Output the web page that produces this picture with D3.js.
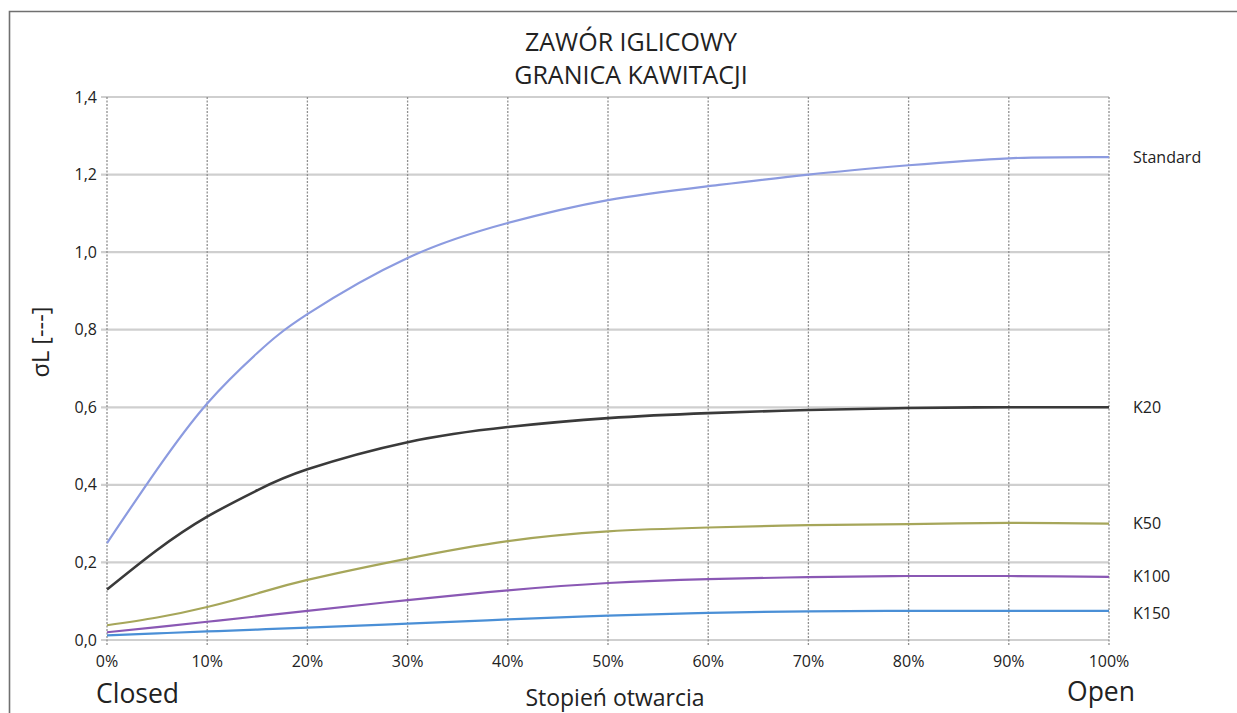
<!DOCTYPE html>
<html><head><meta charset="utf-8">
<script src="https://cdn.jsdelivr.net/npm/d3@7"></script>
<style>body{margin:0;background:#fff;} svg{display:block;font-family:"Open Sans","Noto Sans",sans-serif;}</style>
</head><body><svg id="c" width="1237" height="713"></svg>
<script>
const xValues = [0,5,10,15,20,30,40,50,60,70,80,90,100];
const seriesNames = ["Standard","K20","K50","K100","K150"];
const standard = [0.25,0.44,0.61,0.74,0.84,0.985,1.075,1.134,1.17,1.2,1.224,1.242,1.245];
const k20 = [0.13,0.232,0.318,0.386,0.44,0.51,0.549,0.572,0.585,0.593,0.598,0.6,0.6];
const k50 = [0.038,0.058,0.085,0.12,0.155,0.21,0.255,0.28,0.29,0.296,0.299,0.302,0.3];
const k100 = [0.02,0.033,0.047,0.061,0.075,0.103,0.128,0.147,0.157,0.162,0.165,0.165,0.163];
const k150 = [0.012,0.017,0.022,0.027,0.032,0.042,0.053,0.063,0.07,0.074,0.075,0.075,0.075];
const yTicks = [0,0.2,0.4,0.6,0.8,1.0,1.2,1.4];
const xTicks = [0,10,20,30,40,50,60,70,80,90,100];
const colors = ["#8c9be0","#3a3a3a","#a6a65a","#8a58b4","#4a8fd6"];
const series = [standard,k20,k50,k100,k150];

const svg = d3.select("#c");
const x = d3.scaleLinear().domain([0,100]).range([107,1109]);
const y = d3.scaleLinear().domain([0,1.4]).range([640,97]);

// frame
svg.append("path").attr("d","M9.5,713 L9.5,11.5 L1237,11.5").attr("fill","none").attr("stroke","#707070").attr("stroke-width",1.6);

// horizontal grid
svg.append("g").selectAll("line").data(yTicks).join("line")
  .attr("x1",x(0)-6).attr("x2",x(100)).attr("y1",d=>y(d)).attr("y2",d=>y(d))
  .attr("stroke","#cfcfcf").attr("stroke-width",2.2);
// vertical grid
svg.append("g").selectAll("line").data(xTicks).join("line")
  .attr("x1",d=>x(d)).attr("x2",d=>x(d)).attr("y1",y(1.4)).attr("y2",y(0)+5)
  .attr("stroke","#8f8f8f").attr("stroke-width",1.3).attr("stroke-dasharray","2,1.5");

// y tick labels
const fmt = d=>d3.format(".1f")(d).replace(".",",");
svg.append("g").selectAll("text").data(yTicks).join("text")
  .attr("x",97).attr("y",d=>y(d)).attr("dy","0.35em").attr("text-anchor","end")
  .attr("font-size",16).attr("fill","#222").text(fmt);
// x tick labels
svg.append("g").selectAll("text").data(xTicks).join("text")
  .attr("x",d=>x(d)).attr("y",667).attr("text-anchor","middle")
  .attr("font-size",16).attr("fill","#222").text(d=>d+"%");

// lines
const line = d3.line().x((d,i)=>x(xValues[i])).y(d=>y(d)).curve(d3.curveNatural);
series.forEach((s,i)=>{
  svg.append("path").datum(s).attr("d",line).attr("fill","none")
    .attr("stroke",colors[i]).attr("stroke-width", i===1?2.6:2.2);
});
// series labels
svg.append("g").selectAll("text").data(seriesNames).join("text")
  .attr("x",1133).attr("y",(d,i)=>y(series[i][series[i].length-1])+ (i===4?2:0)).attr("dy","0.35em")
  .attr("font-size",16).attr("fill","#222").text(d=>d);

// titles
svg.append("text").attr("x",631).attr("y",51).attr("text-anchor","middle").attr("font-size",25).attr("fill","#222").text("ZAWÓR IGLICOWY");
svg.append("text").attr("x",631).attr("y",84).attr("text-anchor","middle").attr("font-size",25).attr("fill","#222").text("GRANICA KAWITACJI");
svg.append("text").attr("transform","translate(49,342) rotate(-90)").attr("text-anchor","middle").attr("font-size",23.5).attr("fill","#222").text("σL [---]");
svg.append("text").attr("x",615).attr("y",706).attr("text-anchor","middle").attr("font-size",23).attr("fill","#222").text("Stopień otwarcia");
svg.append("text").attr("x",96).attr("y",703).attr("font-size",26.5).attr("fill","#222").text("Closed");
svg.append("text").attr("x",1135).attr("y",701).attr("text-anchor","end").attr("font-size",26.5).attr("fill","#222").text("Open");
</script></body></html>
